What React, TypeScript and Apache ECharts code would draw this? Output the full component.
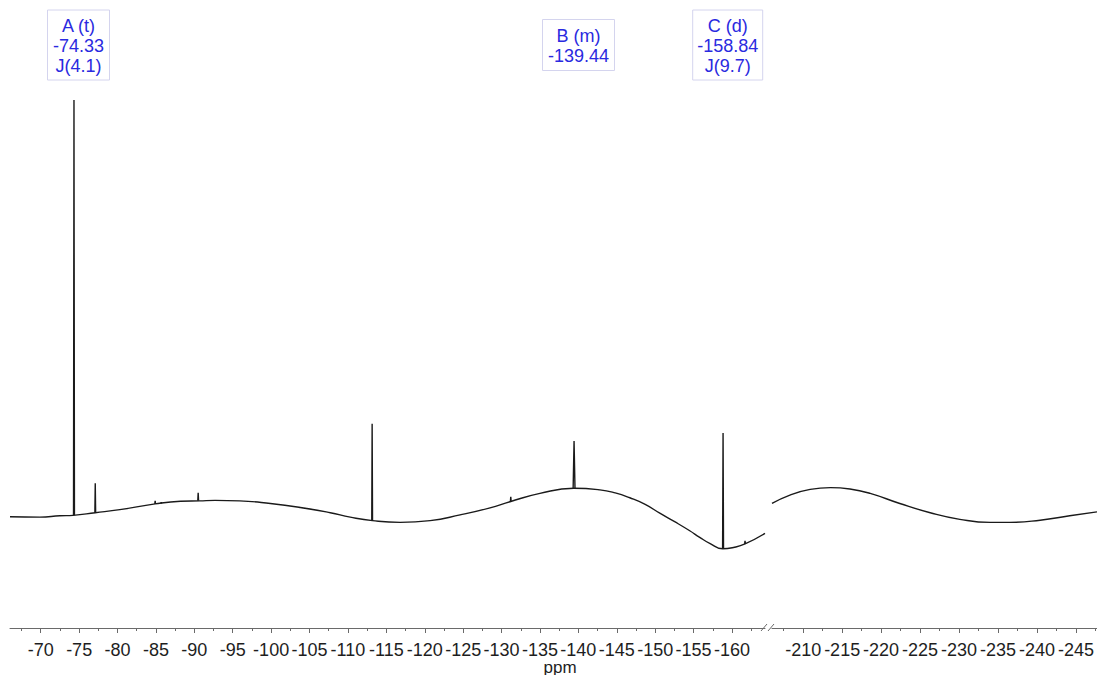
import React, { useEffect, useRef } from "react";
import * as echarts from "echarts";

// Baseline of the spectrum, left segment (ppm, relative intensity)
const leftPpm = [-66.0, -69.9, -72.5, -74.2, -77.1, -80.3, -84.9, -88.2, -90.7, -92.7, -95.9, -99.9, -103.8, -107.7, -110.3, -113.2, -116.8, -120.7, -124.6, -128.5, -131.1, -135.0, -139.4, -142.8, -144.8, -146.7, -148.7, -150.6, -152.6, -154.5, -155.8, -157.1, -158.8, -160.2, -161.7, -164.3];
const leftInt = [5.3, 5.2, 5.5, 5.6, 6.2, 6.9, 8.2, 8.8, 8.9, 9.0, 8.9, 8.3, 7.4, 6.2, 5.2, 4.4, 4.0, 4.4, 5.7, 7.3, 8.7, 10.6, 11.75, 11.4, 10.7, 9.6, 8.1, 6.1, 4.1, 2.1, 0.6, -0.75, -2.0, -1.7, -0.9, 1.5];

// Baseline of the spectrum, right segment
const rightPpm = [-206.0, -208.3, -210.9, -213.5, -216.0, -218.6, -222.4, -226.3, -230.1, -234.0, -236.5, -240.4, -244.2, -247.7];
const rightInt = [8.3, 10.2, 11.5, 11.9, 11.6, 10.6, 8.3, 6.2, 4.7, 4.0, 4.0, 4.5, 5.5, 6.4];

// Peaks: position, top intensity, baseline intensity under the peak, half width
const peakPpm = [-74.33, -77.1, -84.9, -85.7, -90.5, -113.15, -131.2, -139.44, -158.84, -161.7];
const peakTop = [100, 12.9, 8.9, 8.6, 10.75, 26.4, 9.8, 22.5, 24.3, -0.2];
const peakBase = [5.6, 6.2, 8.2, 8.3, 8.9, 4.4, 8.7, 11.75, -2.0, -0.9];
const peakHalfWidth = [0.06, 0.05, 0.05, 0.05, 0.05, 0.05, 0.05, 0.12, 0.06, 0.05];

// Axis ticks
const leftMajor = [-70, -75, -80, -85, -90, -95, -100, -105, -110, -115, -120, -125, -130, -135, -140, -145, -150, -155, -160];
const leftMinor = [-67.5, -72.5, -77.5, -82.5, -87.5, -92.5, -97.5, -102.5, -107.5, -112.5, -117.5, -122.5, -127.5, -132.5, -137.5, -142.5, -147.5, -152.5, -157.5, -162.5];
const rightMajor = [-210, -215, -220, -225, -230, -235, -240, -245];
const rightMinor = [-207.5, -212.5, -217.5, -222.5, -227.5, -232.5, -237.5, -242.5, -247.5];

// Peak annotations
const annLabels = ["A (t)\n-74.33\nJ(4.1)", "B (m)\n-139.44", "C (d)\n-158.84\nJ(9.7)"];

const FONT = "'Liberation Sans', Arial, Helvetica, sans-serif";
const AXIS_COLOR = "#6a6a6a";
const LINE_COLOR = "#1a1a1a";
const ANN_COLOR = "#2a2ae0";

export default function App() {
  const ref = useRef<HTMLDivElement>(null);

  useEffect(() => {
    if (!ref.current) return;
    const chart = echarts.init(ref.current, undefined, { renderer: "svg" });

    const leftData = leftPpm.map((p, i) => [p, leftInt[i]]);
    const rightData = rightPpm.map((p, i) => [p, rightInt[i]]);
    const peakData: any[] = [];
    peakPpm.forEach((p, i) => {
      peakData.push([p + peakHalfWidth[i], peakBase[i]]);
      peakData.push([p, peakTop[i]]);
      peakData.push([p - peakHalfWidth[i], peakBase[i]]);
      peakData.push([p, null]);
    });

    const mainAxis = (grid: number, min: number, max: number, major: number[]) => ({
      type: "value",
      gridIndex: grid,
      min,
      max,
      inverse: true,
      position: "bottom",
      splitLine: { show: false },
      axisLine: { show: true, onZero: false, lineStyle: { color: AXIS_COLOR, width: 1 } },
      axisTick: { show: true, length: 5, customValues: major, lineStyle: { color: AXIS_COLOR } },
      axisLabel: {
        show: true,
        customValues: major,
        margin: 13,
        fontSize: 18,
        fontFamily: FONT,
        color: "#1e1e1e",
        showMinLabel: true,
        showMaxLabel: true,
      },
    });
    const minorAxis = (grid: number, min: number, max: number, minor: number[]) => ({
      type: "value",
      gridIndex: grid,
      min,
      max,
      inverse: true,
      position: "bottom",
      splitLine: { show: false },
      axisLine: { show: false, onZero: false },
      axisTick: { show: true, length: 3, customValues: minor, lineStyle: { color: AXIS_COLOR } },
      axisLabel: { show: false },
    });

    const LMIN = -164.3, LMAX = -66.0, RMIN = -247.7, RMAX = -206.0;

    const annBoxes = [
      { cx: 78.5, cy: 45, w: 62, h: 70 },
      { cx: 578.5, cy: 45, w: 72, h: 51 },
      { cx: 727.7, cy: 45, w: 70, h: 70 },
    ];

    chart.setOption({
      animation: false,
      backgroundColor: "#ffffff",
      grid: [
        { left: 10, width: 755, top: 100, height: 528 },
        { left: 772, width: 325, top: 100, height: 528 },
      ],
      xAxis: [
        mainAxis(0, LMIN, LMAX, leftMajor),
        mainAxis(1, RMIN, RMAX, rightMajor),
        minorAxis(0, LMIN, LMAX, leftMinor),
        minorAxis(1, RMIN, RMAX, rightMinor),
      ],
      yAxis: [
        { type: "value", gridIndex: 0, min: -20, max: 100, show: false },
        { type: "value", gridIndex: 1, min: -20, max: 100, show: false },
      ],
      series: [
        {
          type: "line",
          xAxisIndex: 0,
          yAxisIndex: 0,
          data: leftData,
          smooth: 0.5,
          showSymbol: false,
          lineStyle: { color: LINE_COLOR, width: 1.4 },
        },
        {
          type: "line",
          xAxisIndex: 0,
          yAxisIndex: 0,
          data: peakData,
          connectNulls: false,
          showSymbol: false,
          lineStyle: { color: LINE_COLOR, width: 1.4 },
        },
        {
          type: "line",
          xAxisIndex: 1,
          yAxisIndex: 1,
          data: rightData,
          smooth: 0.5,
          showSymbol: false,
          lineStyle: { color: LINE_COLOR, width: 1.4 },
        },
      ],
      graphic: [
        ...annBoxes.map((b, i) => ({
          type: "group",
          x: b.cx,
          y: b.cy,
          children: [
            {
              type: "rect",
              shape: { x: -b.w / 2, y: -b.h / 2, width: b.w, height: b.h },
              style: { fill: "#ffffff", stroke: "#d4d4ee", lineWidth: 1 },
            },
            {
              type: "text",
              x: 0,
              y: 1,
              style: {
                text: annLabels[i],
                fill: ANN_COLOR,
                font: `18px ${FONT}`,
                lineHeight: 20,
                align: "center",
                verticalAlign: "middle",
              },
            },
          ],
        })),
        {
          type: "line",
          shape: { x1: 761, y1: 631, x2: 767, y2: 624 },
          style: { stroke: AXIS_COLOR, lineWidth: 1 },
        },
        {
          type: "line",
          shape: { x1: 768, y1: 631, x2: 774, y2: 624 },
          style: { stroke: AXIS_COLOR, lineWidth: 1 },
        },
        {
          type: "text",
          x: 560,
          y: 667,
          style: {
            text: "ppm",
            fill: "#1e1e1e",
            font: `17px ${FONT}`,
            align: "center",
            verticalAlign: "middle",
          },
        },
      ],
    });

    return () => chart.dispose();
  }, []);

  return <div ref={ref} style={{ width: 1097, height: 675, position: "absolute", left: 0, top: 0 }} />;
}
